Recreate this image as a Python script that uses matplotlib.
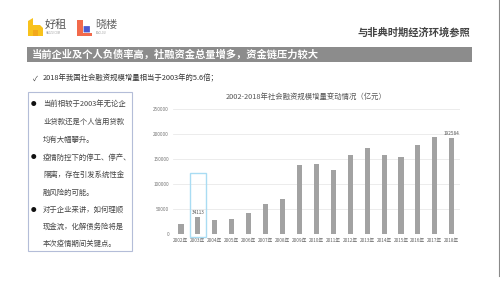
"""Slide: social financing increment 2002-2018, with SARS-period comparison notes."""
import matplotlib
matplotlib.use("Agg")
import matplotlib.pyplot as plt
from matplotlib.patches import Rectangle, Polygon, FancyBboxPatch

plt.rcParams["font.family"] = ["Noto Sans CJK SC", "DejaVu Sans"]

YEARS = ["2002年", "2003年", "2004年", "2005年", "2006年", "2007年", "2008年",
         "2009年", "2010年", "2011年", "2012年", "2013年", "2014年", "2015年",
         "2016年", "2017年", "2018年"]
VALUES = [20112, 34113, 28629, 30008, 42696, 59663, 69802, 139104, 140191,
          128286, 157631, 173169, 158000, 154086, 178022, 194430, 192584]
LABELLED = {"2003年": "34113", "2018年": "192584"}
HIGHLIGHT = "2003年"
YTICKS = [0, 50000, 100000, 150000, 200000, 250000]

TITLE = "当前企业及个人负债率高，社融资金总量增多，资金链压力较大"
SUBTITLE = "与非典时期经济环境参照"
CHECK_LINE = "2018年我国社会融资规模增量相当于2003年的5.6倍；"
CHART_TITLE = "2002-2018年社会融资规模增量变动情况（亿元）"
NOTES = [
    (True, "当前相较于2003年无论企"),
    (False, "业贷款还是个人信用贷款"),
    (False, "均有大幅攀升。"),
    (True, "疫情防控下的停工、停产、"),
    (False, "隔离，存在引发系统性金"),
    (False, "融风险的可能。"),
    (True, "对于企业来讲，如何理顺"),
    (False, "现金流，化解债务险将是"),
    (False, "本次疫情期间关键点。"),
]

fig = plt.figure(figsize=(5.0, 2.81), dpi=100)

# overlay in pixel coordinates for the slide furniture
ov = fig.add_axes([0, 0, 1, 1])
ov.set_autoscale_on(False)
ov.set_xlim(0, 500); ov.set_ylim(281, 0); ov.axis("off")

# logos
ov.add_patch(Polygon([(28, 36), (28, 21), (33, 18), (33, 25), (40, 25), (43, 28),
                      (43, 36), (38, 36), (38, 30), (33, 30), (33, 36)],
                     closed=True, color="#f8c21c", lw=0))
ov.add_patch(Rectangle((33, 30), 5, 6, color="#f3a81a", lw=0))
ov.text(45, 25, "好租", fontsize=8, color="#555555", va="center")
ov.text(45.5, 33.5, "HAOZU.COM", fontsize=1.8, color="#999999", va="center")
ov.add_patch(Polygon([(77, 20), (83, 20), (83, 33), (92, 33), (92, 36), (77, 36)],
                     closed=True, color="#f26a4b", lw=0))
ov.add_patch(FancyBboxPatch((84, 26.5), 5.5, 5.5, boxstyle="round,pad=0.4",
                            color="#4d5bd0", lw=0))
ov.text(95, 25, "晓楼", fontsize=8, color="#666666", va="center")
ov.text(95.5, 33.5, "XIAOLOU", fontsize=1.8, color="#999999", va="center")

ov.text(470, 32.5, SUBTITLE, fontsize=7.4, color="#444444", ha="right",
        va="center", fontweight="bold")

ov.add_patch(Rectangle((27, 47), 445, 14.5, color="#8c8c8c", lw=0))
ov.text(32, 54.5, TITLE, fontsize=7.4, color="white", va="center", fontweight="bold")

ov.text(33, 78.5, "✓", fontsize=5, color="#333333", va="center")
ov.text(43, 78.5, CHECK_LINE, fontsize=5.3, color="#333333", va="center")

ov.add_patch(Rectangle((27.5, 92), 104.5, 159, fill=False, edgecolor="#b4bdd8", lw=0.8))
note_y = [104.3, 121.7, 140, 157.7, 174.7, 192.7, 210, 226.7, 244]
for (bullet, line), y in zip(NOTES, note_y):
    if bullet:
        ov.text(33.5, y, "●", fontsize=4, color="#111111", va="center", ha="center")
    ov.text(43, y, line, fontsize=5.3, color="#444444", va="center")

ov.text(306, 96.5, CHART_TITLE, fontsize=5.3, color="#555555", ha="center", va="center")
ov.plot([498.5, 498.5], [0, 276], color="#8a8a8a", lw=0.8)

# bar chart
ax = fig.add_axes([0.345, 0.1662, 0.5754, 0.4448])
ax.set_facecolor("none")
x = list(range(len(YEARS)))
ax.bar(x, VALUES, width=0.3, color="#a2a2a2", zorder=2)
ax.set_xlim(-0.5, len(YEARS) - 0.5)
ax.set_ylim(0, 250000)
ax.set_yticks(YTICKS)
ax.set_yticklabels([str(t) for t in YTICKS])
ax.set_xticks(x)
ax.set_xticklabels(YEARS)
ax.tick_params(axis="y", length=0, labelsize=3.4, labelcolor="#777777", pad=2.5)
ax.tick_params(axis="x", length=0, labelsize=3.4, labelcolor="#666666", pad=2.4)
ax.grid(axis="y", color="#e9e9e9", lw=0.6, zorder=0)
for s in ax.spines.values():
    s.set_visible(False)

for i, (yr, v) in enumerate(zip(YEARS, VALUES)):
    if yr in LABELLED:
        ax.annotate(LABELLED[yr], (i, v), xytext=(0, 1.8), textcoords="offset points",
                    ha="center", va="bottom", fontsize=3.4, color="#555555")

hi = YEARS.index(HIGHLIGHT)
ax.add_patch(Rectangle((hi - 0.47, -6000), 0.94, 128000, fill=False,
                       edgecolor="#a9dcf3", lw=1.0, clip_on=False, zorder=3))

fig.savefig("out.png", dpi=100)
